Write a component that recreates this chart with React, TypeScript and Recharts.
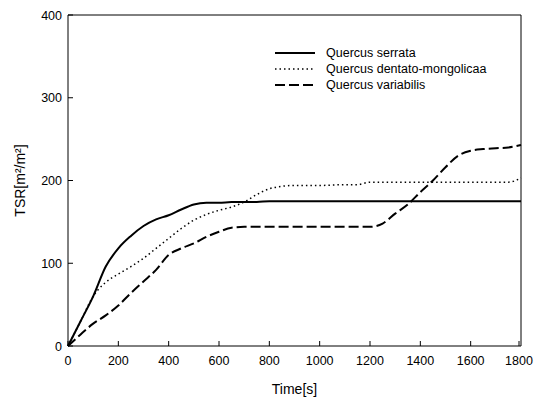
import { LineChart, Line, XAxis, YAxis, ReferenceLine } from 'recharts';

// time points [s]
const times = [0, 50, 100, 150, 200, 250, 300, 350, 400, 450, 500, 550, 600, 650, 700, 750, 800, 850, 900, 1000, 1100, 1150, 1200, 1250, 1300, 1350, 1400, 1450, 1500, 1550, 1600, 1650, 1700, 1750, 1800];

const serrata = [0, 30, 60, 96, 118, 133, 145, 153, 158, 165, 171, 173, 173, 174, 174, 174, 175, 175, 175, 175, 175, 175, 175, 175, 175, 175, 175, 175, 175, 175, 175, 175, 175, 175, 175];
const dentato = [0, 30, 60, 77, 87, 96, 106, 118, 130, 142, 152, 159, 164, 168, 174, 183, 190, 193, 194, 194, 195, 195, 198, 198, 198, 198, 198, 198, 198, 198, 198, 198, 198, 198, 203];
const variabilis = [0, 14, 27, 37, 49, 64, 78, 92, 110, 118, 124, 132, 138, 143, 144, 144, 144, 144, 144, 144, 144, 144, 144, 148, 160, 171, 186, 200, 216, 230, 236, 238, 239, 240, 243];

const xTicks = [0, 200, 400, 600, 800, 1000, 1200, 1400, 1600, 1800];
const yTicks = [0, 100, 200, 300, 400];

const seriesNames = ['Quercus serrata', 'Quercus dentato-mongolicaa', 'Quercus variabilis'];
const dashes = ['', '1.5 3', '10 4'];

const data = times.map((t, i) => ({
  t,
  serrata: serrata[i],
  dentato: dentato[i],
  variabilis: variabilis[i],
}));

const font = 'Liberation Sans, Arial, sans-serif';

const XTick = (props: any) => {
  const { x, y, payload } = props;
  return (
    <g>
      <line x1={x} y1={y} x2={x} y2={y - 5} stroke="#000" />
      <text x={x} y={y + 19} textAnchor="middle" fontSize={12.5} fontFamily={font} fill="#000">
        {payload.value}
      </text>
    </g>
  );
};

const YTick = (props: any) => {
  const { x, y, payload } = props;
  return (
    <g>
      <line x1={x} y1={y} x2={x + 5} y2={y} stroke="#000" />
      <text x={x - 6} y={y + 4.5} textAnchor="end" fontSize={12.5} fontFamily={font} fill="#000">
        {payload.value}
      </text>
    </g>
  );
};

const LegendBox = () => (
  <div style={{ position: 'absolute', left: 275, top: 45, fontFamily: font, fontSize: 12.5, color: '#000' }}>
    {seriesNames.map((name, i) => (
      <div key={name} style={{ display: 'flex', alignItems: 'center', height: 16 }}>
        <svg width={40} height={6} style={{ marginRight: 11 }}>
          <line x1={0} y1={3} x2={40} y2={3} stroke="#000" strokeWidth={i === 1 ? 1.3 : 2} strokeDasharray={dashes[i]} />
        </svg>
        <span>{name}</span>
      </div>
    ))}
  </div>
);

export default function App() {
  return (
    <div style={{ position: 'absolute', left: 0, top: 0, width: 535, height: 402, background: '#fff' }}>
      <LineChart width={535} height={402} data={data} margin={{ top: 15, right: 14, bottom: 0, left: 8 }}>
        <XAxis
          dataKey="t"
          type="number"
          domain={[0, 1800]}
          ticks={xTicks}
          tickLine={false}
          tickSize={0}
          tickMargin={0}
          tick={<XTick />}
          height={56}
          stroke="#000"
          label={{ value: 'Time[s]', position: 'insideBottom', offset: 8, fontSize: 14, fontFamily: font, fill: '#000' }}
        />
        <YAxis
          type="number"
          domain={[0, 400]}
          ticks={yTicks}
          tickLine={false}
          tickSize={0}
          tickMargin={0}
          tick={<YTick />}
          width={60}
          stroke="#000"
          label={{ value: 'TSR[m²/m²]', angle: -90, position: 'insideLeft', offset: 12, fontSize: 14, fontFamily: font, fill: '#000', style: { textAnchor: 'middle' } }}
        />
        <ReferenceLine y={400} stroke="#000" />
        <ReferenceLine x={1800} stroke="#000" />
        <Line type="monotone" dataKey="serrata" name={seriesNames[0]} stroke="#000" strokeWidth={2} dot={false} isAnimationActive={false} />
        <Line type="monotone" dataKey="dentato" name={seriesNames[1]} stroke="#000" strokeWidth={1.5} strokeDasharray={dashes[1]} dot={false} isAnimationActive={false} />
        <Line type="monotone" dataKey="variabilis" name={seriesNames[2]} stroke="#000" strokeWidth={2} strokeDasharray={dashes[2]} dot={false} isAnimationActive={false} />
      </LineChart>
      <LegendBox />
    </div>
  );
}
